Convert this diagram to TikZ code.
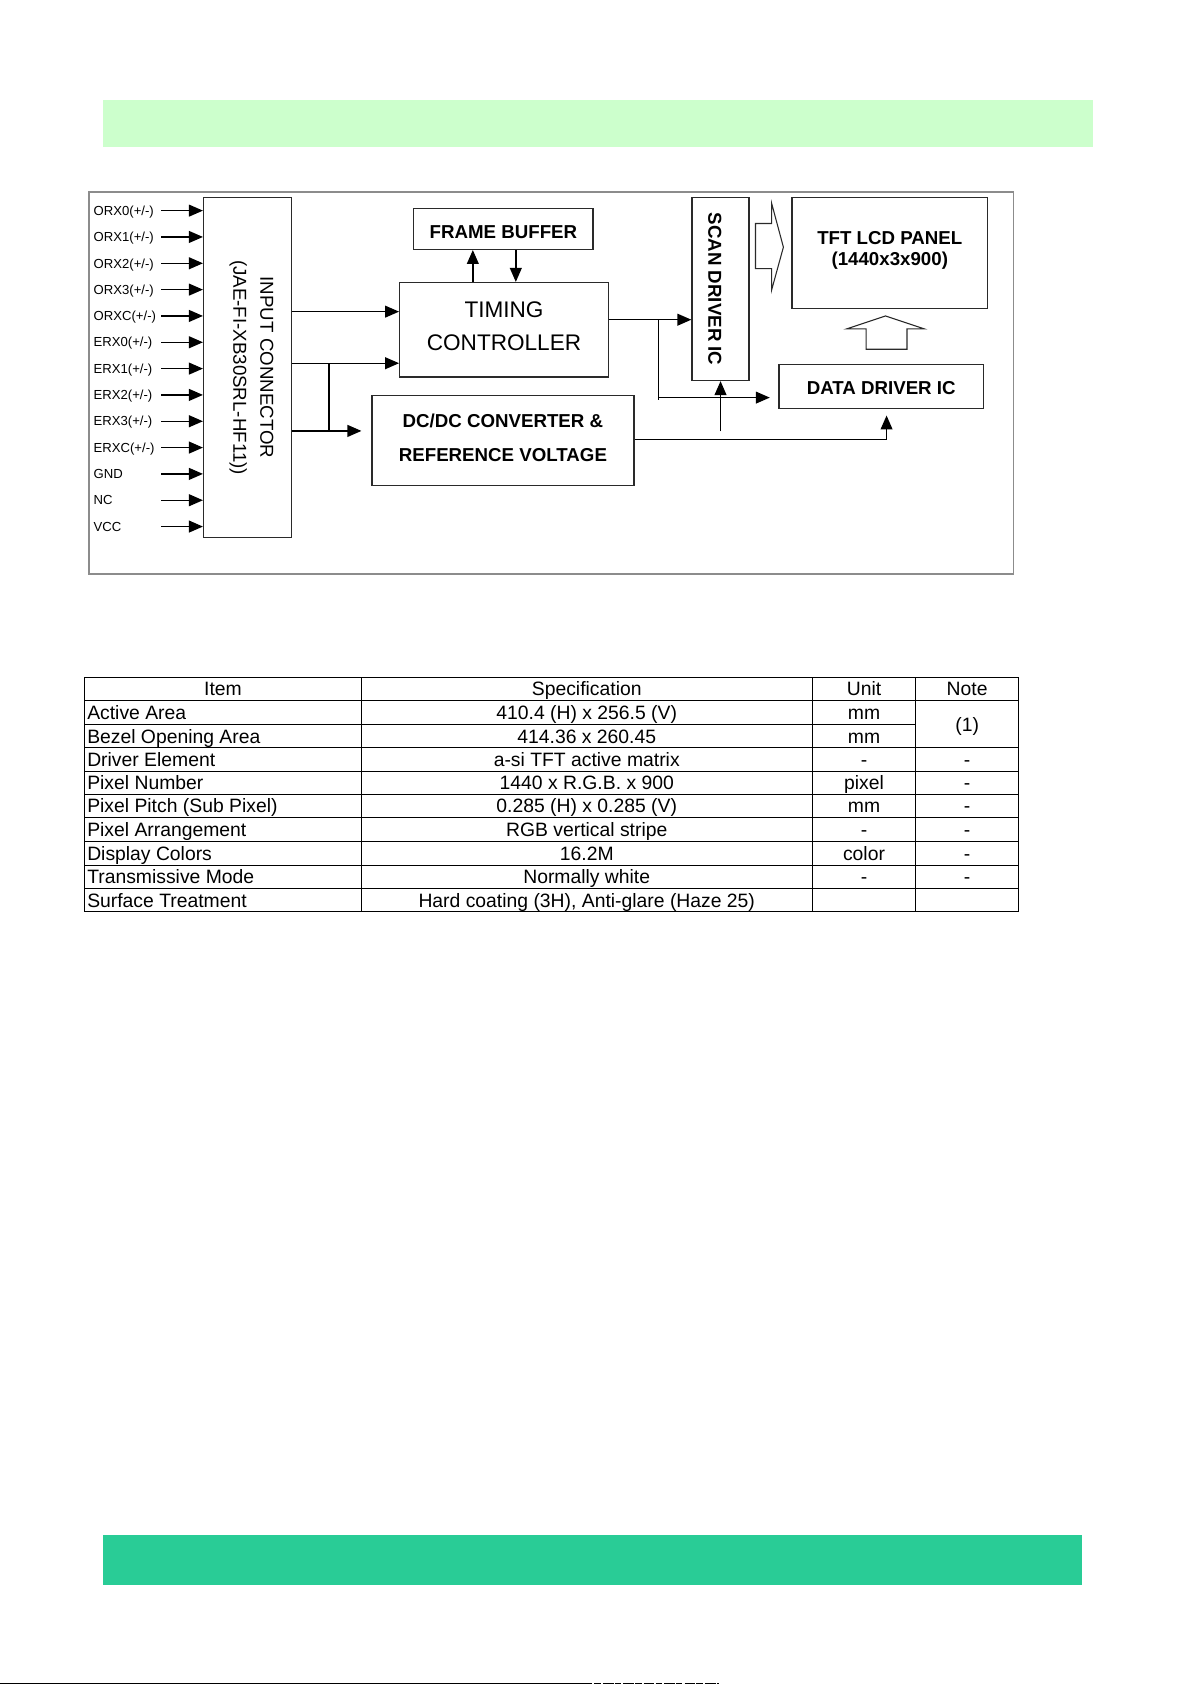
\documentclass[tikz,border=0pt]{standalone}
\usepackage{fontspec}
\setmainfont{Liberation Sans}
\usetikzlibrary{arrows.meta}
\definecolor{lightband}{HTML}{CCFFCC}
\definecolor{darkband}{HTML}{29CC96}
\definecolor{framegray}{HTML}{8C8C8C}
\definecolor{boxline}{HTML}{2A2A2A}
\begin{document}
\begin{tikzpicture}[x=1pt,y=-1pt,
  box/.style={draw=boxline,line width=1.3pt,inner sep=0pt},
  txt/.style={inner sep=0pt,align=center},
  bfont/.style={font=\bfseries\fontsize{17.4}{25}\selectfont},
  arr/.style={draw=black,line width=1.3pt,-{Triangle[length=13pt,width=11pt]}},
  wire/.style={draw=black,line width=1.3pt},
  hollow/.style={draw=boxline,line width=1pt,line join=miter},
  inl/.style={anchor=west,font=\fontsize{12.2}{14}\selectfont,inner sep=0pt,text height=8.8pt,text depth=0pt},
  cell/.style={font=\fontsize{18}{20}\selectfont,inner sep=0pt,text height=12.9pt,text depth=0pt},
  lcell/.style={cell,anchor=west},
  tline/.style={draw=black,line width=0.9pt}]
\useasboundingbox (0,0) rectangle (1108,1568);
% bands
\fill[lightband] (96,93) rectangle (1017,137);
\fill[darkband] (96,1428) rectangle (1007,1475);
% diagram frame
\draw[framegray,line width=1.6pt] (83,179) rectangle (943,534);

% boxes
\node[box,minimum width=82pt,minimum height=316pt] (inconn) at (230.5,342) {};
\node[txt,rotate=-90,font=\fontsize{17.4}{25}\selectfont] (inconntxt) at (234,342) {INPUT CONNECTOR\\(JAE-FI-XB30SRL-HF11))};
\node[box,minimum width=167pt,minimum height=38pt] (fb) at (468.5,213) {};
\node[txt,bfont,text height=12.5pt,text depth=0pt] (fbtxt) at (468.5,216) {FRAME BUFFER};
\node[box,minimum width=194pt,minimum height=88pt] (tc) at (469,307) {};
\node[txt,font=\fontsize{21}{31}\selectfont] (tctxt) at (469,303.5) {TIMING\\CONTROLLER};
\node[box,minimum width=244pt,minimum height=84pt] (dc) at (468,410) {};
\node[txt,font=\bfseries\fontsize{17.4}{31}\selectfont] (dctxt) at (468,407.5) {DC/DC CONVERTER \&\\REFERENCE VOLTAGE};
\node[box,minimum width=53pt,minimum height=170pt] (scan) at (670.5,269) {};
\node[txt,rotate=-90,bfont,text height=12.5pt,text depth=0pt] (scantxt) at (665.5,269) {SCAN DRIVER IC};
\node[box,minimum width=182pt,minimum height=103pt] (panel) at (828,235.5) {};
\node[txt,font=\bfseries\fontsize{17.4}{20}\selectfont] (paneltxt) at (828,233) {TFT LCD PANEL\\(1440x3x900)};
\node[box,minimum width=190pt,minimum height=41pt] (ddic) at (820,359.5) {};
\node[txt,bfont,text height=12.5pt,text depth=0pt] (ddtxt) at (820,361) {DATA DRIVER IC};

% input labels and arrows
\foreach \yy/\tt [count=\i] in {196/{ORX0(+/-)},220.5/{ORX1(+/-)},245/{ORX2(+/-)},269.5/{ORX3(+/-)},294/{ORXC(+/-)},318.5/{ERX0(+/-)},343/{ERX1(+/-)},367.5/{ERX2(+/-)},392/{ERX3(+/-)},416.5/{ERXC(+/-)},441/GND,465.5/NC,490/VCC}{
  \node[inl] (in\i) at (87,\yy) {\tt};
  \coordinate (s\i) at (150,\yy);
  \draw[arr] (s\i) -- (s\i -| inconn.west);
}

% input connector to timing controller and DC/DC
\coordinate (o1) at (272,290);
\coordinate (o2) at (272,338);
\coordinate (o3) at (272,401);
\coordinate (b1) at (306,338);
\draw[arr] (o1 -| inconn.east) -- (o1 -| tc.west);
\draw[arr] (o2 -| inconn.east) -- (o2 -| tc.west);
\draw[wire] (b1) -- (b1 |- o3);
\draw[arr] (o3 -| inconn.east) -- ([xshift=-9pt]o3 -| dc.west);

% frame buffer <-> timing
\coordinate (fu) at (440,0);
\coordinate (fd) at (480,0);
\draw[arr] (fu |- tc.north) -- (fu |- fb.south);
\draw[arr] (fd |- fb.south) -- (fd |- tc.north);

% timing to scan driver, branch to data driver
\coordinate (t1) at (566,297.5);
\coordinate (b2) at (613,297.5);
\coordinate (b3) at (613,372.5);
\coordinate (d1) at (613,370);
\draw[arr] (t1 -| tc.east) -- (t1 -| scan.west);
\draw[wire] (b2) -- (b3);
\draw[arr] (d1) -- ([xshift=-8pt]d1 -| ddic.west);

% up into scan driver
\coordinate (v1) at (670.5,401.5);
\draw[arr] (v1) -- (v1 |- scan.south);

% DC/DC output to data driver
\coordinate (e1) at (590,409);
\coordinate (e2) at (825,409);
\draw[arr] (e1 -| dc.east) -- (e2) -- ([yshift=-6pt]e2 |- ddic.south);

% hollow block arrows
\draw[hollow] (703,208) -- (718,208) -- (718,189) -- (729,230) -- (718,270) -- (718,250) -- (703,250) -- cycle;
\draw[hollow] (806,325) -- (806,306) -- (788,306) -- (824,294) -- (860,306) -- (844,306) -- (844,325) -- cycle;

% table
\draw[tline] (79,630) rectangle (948,848);
\foreach \xx in {336,756,852}{\draw[tline] (\xx,630) -- (\xx,848);}
\foreach \yy in {652,696,718,739.5,761,783,805,827}{\draw[tline] (79,\yy) -- (948,\yy);}
\draw[tline] (79,674) -- (852,674);
\node[cell] (h1) at (207.5,641) {Item};
\node[cell] (h2) at (546,641) {Specification};
\node[cell] (h3) at (804,641) {Unit};
\node[cell] (h4) at (900,641) {Note};
\foreach \yy/\a/\b/\c [count=\i] in {
  663/Active Area/410.4 (H) x 256.5 (V)/mm,
  685/Bezel Opening Area/414.36 x 260.45/mm,
  707/Driver Element/a-si TFT active matrix/-,
  728.5/Pixel Number/1440 x R.G.B. x 900/pixel,
  750/Pixel Pitch (Sub Pixel)/0.285 (H) x 0.285 (V)/mm,
  772/Pixel Arrangement/RGB vertical stripe/-,
  794/Display Colors/16.2M/color,
  816/Transmissive Mode/Normally white/-,
  838/Surface Treatment/{Hard coating (3H), Anti-glare (Haze 25)}/{}}{
  \node[lcell] (ra\i) at (81,\yy) {\a};
  \node[cell] (rb\i) at (546,\yy) {\b};
  \node[cell] (rc\i) at (804,\yy) {\c};
}
\node[cell] (n1) at (900,674) {(1)};
\foreach \yy [count=\i] in {707,728.5,750,772,794,816}{\node[cell] (nd\i) at (900,\yy) {-};}

% bottom edge line
\draw[black,line width=1.5pt] (0,1566.5) -- (551,1566.5);
\draw[black,line width=1.5pt,dash pattern=on 6pt off 2pt on 10pt off 1pt] (553,1566.5) -- (669,1566.5);
\end{tikzpicture}
\end{document}
